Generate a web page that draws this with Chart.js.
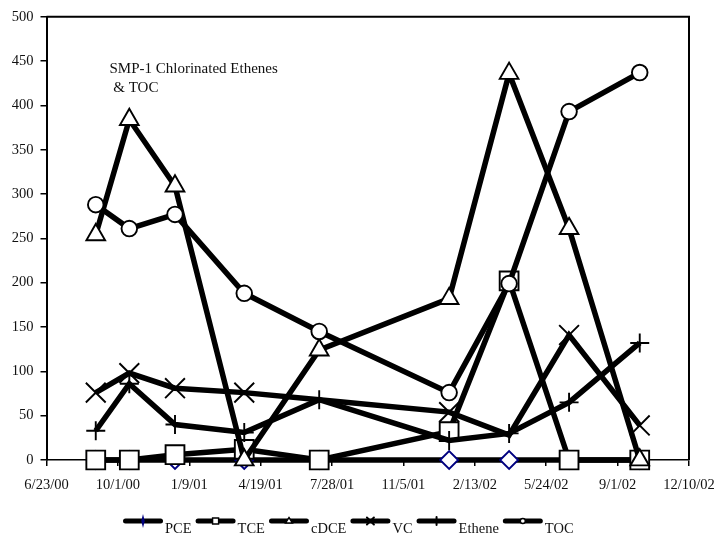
<!DOCTYPE html>
<html>
<head>
<meta charset="utf-8">
<script src="https://cdn.jsdelivr.net/npm/chart.js@4.4.1/dist/chart.umd.min.js"></script>
<style>
  html, body { margin: 0; padding: 0; background: #fff; }
  #wrap { width: 723px; height: 534px; }
</style>
</head>
<body>
<div id="wrap"><canvas id="c" width="723" height="534"></canvas></div>
<script>
// Sampling dates (M/D/YY) and concentrations per analyte
const sampleDates = ['8/31/00', '10/17/00', '12/20/00', '3/27/01', '7/10/01', '1/8/02', '4/2/02', '6/25/02', '10/2/02'];
const pce    = [0, 0, 0, 0, 0, 0, 0, 0, 0];
const tce    = [0, 0, 6, 12, 0, 32, 202, 0, 0];
const cdce   = [254, 384, 309, 0, 124, 182, 436, 261, 0];
const vc     = [76, 98, 81, 76, 68, 54, 28, 141, 39];
const ethene = [33, 86, 40, 31, 68, 22, 30, 65, 132];
const toc    = [288, 261, 277, 188, 145, 76, 199, 393, 437];

const seriesNames = ['PCE', 'TCE', 'cDCE', 'VC', 'Ethene', 'TOC'];
const xTickLabels = ['6/23/00', '10/1/00', '1/9/01', '4/19/01', '7/28/01', '11/5/01', '2/13/02', '5/24/02', '9/1/02', '12/10/02'];
const titleLines = ['SMP-1 Chlorinated Ethenes', ' & TOC'];

// x positions are days since the first axis date (6/23/00)
function dayOffset(s) {
  const [m, d, y] = s.split('/').map(Number);
  return (Date.UTC(2000 + y, m - 1, d) - Date.UTC(2000, 5, 23)) / 86400000;
}
const xs = sampleDates.map(dayOffset);
const pts = arr => arr.map((v, i) => ({ x: xs[i], y: v }));

const FONT = '"Liberation Serif", "Times New Roman", serif';

const styles = [
  { pointStyle: 'rectRot',  radius: 9,    border: '#000080', fill: '#fff' },
  { pointStyle: 'rect',     radius: 13.3, border: '#000',    fill: '#fff' },
  { pointStyle: 'triangle', radius: 10.8, border: '#000',    fill: '#fff' },
  { pointStyle: 'crossRot', radius: 14,   border: '#000',    fill: '#fff' },
  { pointStyle: 'cross',    radius: 9.5,  border: '#000',    fill: '#fff' },
  { pointStyle: 'circle',   radius: 7.8,  border: '#000',    fill: '#fff' }
];
const values = [pce, tce, cdce, vc, ethene, toc];

const datasets = values.map((arr, i) => {
  let radius = styles[i].radius;
  // VC markers sitting underneath coincident Ethene markers are not shown
  if (i === 3) radius = arr.map((v, k) => (Math.abs(v - ethene[k]) < 3 ? 0 : styles[i].radius));
  return {
    label: seriesNames[i],
    data: pts(arr),
    borderColor: '#000',
    borderWidth: 5.5,
    backgroundColor: '#000',
    pointStyle: styles[i].pointStyle,
    pointRadius: radius,
    pointHoverRadius: radius,
    pointBorderColor: styles[i].border,
    pointBackgroundColor: styles[i].fill,
    pointBorderWidth: 1.9,
    tension: 0,
    clip: false,
    order: values.length - i
  };
});

function smallMark(ctx, style, x, y, color) {
  ctx.save();
  ctx.lineWidth = 1.4;
  ctx.strokeStyle = color;
  ctx.fillStyle = '#fff';
  ctx.beginPath();
  if (style === 'rectRot') {
    ctx.moveTo(x, y - 4); ctx.lineTo(x + 1, y); ctx.lineTo(x, y + 4); ctx.lineTo(x - 1, y); ctx.closePath();
    ctx.fillStyle = color; ctx.fill(); ctx.stroke();
  } else if (style === 'rect') {
    ctx.rect(x - 3, y - 3, 6, 6); ctx.fill(); ctx.stroke();
  } else if (style === 'triangle') {
    ctx.moveTo(x, y - 3.5); ctx.lineTo(x + 3.5, y + 2); ctx.lineTo(x - 3.5, y + 2); ctx.closePath(); ctx.fill(); ctx.stroke();
  } else if (style === 'crossRot') {
    ctx.moveTo(x - 3.5, y - 3.5); ctx.lineTo(x + 3.5, y + 3.5); ctx.moveTo(x + 3.5, y - 3.5); ctx.lineTo(x - 3.5, y + 3.5);
    ctx.lineWidth = 2; ctx.stroke();
  } else if (style === 'cross') {
    ctx.moveTo(x - 4, y); ctx.lineTo(x + 4, y); ctx.moveTo(x, y - 4); ctx.lineTo(x, y + 4);
    ctx.lineWidth = 2; ctx.stroke();
  } else {
    ctx.arc(x, y, 2.5, 0, Math.PI * 2); ctx.fill(); ctx.stroke();
  }
  ctx.restore();
}

const decorations = {
  id: 'decorations',
  beforeDatasetsDraw(chart) {
    const { ctx, chartArea: a } = chart;
    ctx.save();
    ctx.strokeStyle = '#000';
    ctx.lineWidth = 2;
    ctx.beginPath();
    ctx.moveTo(a.left, a.top);
    ctx.lineTo(a.right, a.top);
    ctx.lineTo(a.right, a.bottom);
    ctx.stroke();
    ctx.restore();
  },
  afterDraw(chart) {
    const { ctx, chartArea: a } = chart;
    ctx.save();
    // chart title inside the plot
    ctx.fillStyle = '#111';
    ctx.font = '15px ' + FONT;
    ctx.textBaseline = 'alphabetic';
    ctx.textAlign = 'left';
    ctx.fillText(titleLines[0], a.left + 63, 72.5);
    ctx.fillText(titleLines[1], a.left + 63, 92);

    // legend row: thick line with a small marker, then the name
    ctx.font = '14.5px ' + FONT;
    const lineLen = 40, gapText = 2, gapItem = 4;
    let x = 123;
    const yLine = 521, yText = 533;
    chart.data.datasets.forEach((ds, i) => {
      ctx.strokeStyle = '#000';
      ctx.lineWidth = 5;
      ctx.lineCap = 'round';
      ctx.beginPath();
      ctx.moveTo(x + 2.5, yLine);
      ctx.lineTo(x + lineLen - 2.5, yLine);
      ctx.stroke();
      smallMark(ctx, styles[i].pointStyle, x + lineLen / 2, yLine, styles[i].border);
      ctx.fillStyle = '#111';
      ctx.fillText(ds.label, x + lineLen + gapText, yText);
      x += lineLen + gapText + ctx.measureText(ds.label).width + gapItem;
    });
    ctx.restore();
  }
};

new Chart(document.getElementById('c'), {
  type: 'line',
  data: { datasets },
  options: {
    responsive: false,
    animation: false,
    events: [],
    layout: { autoPadding: false, padding: { left: 0, right: 34, top: 16.7, bottom: 0 } },
    plugins: { legend: { display: false }, tooltip: { enabled: false }, title: { display: false } },
    scales: {
      x: {
        type: 'linear',
        min: 0,
        max: 900,
        afterFit: s => { s.height = 74; s.paddingLeft = 0; s.paddingRight = 0; },
        afterBuildTicks: s => { s.ticks = xTickLabels.map((_, i) => ({ value: i * 100 })); },
        ticks: {
          autoSkip: false,
          maxRotation: 0,
          padding: 10,
          color: '#111',
          font: { family: FONT, size: 14.5 },
          callback: v => xTickLabels[Math.round(v / 100)]
        },
        grid: { drawOnChartArea: false, drawTicks: true, tickLength: 6, color: '#000', lineWidth: 1.5 },
        border: { display: true, color: '#000', width: 1.5 }
      },
      y: {
        type: 'linear',
        min: 0,
        max: 500,
        afterFit: s => { s.width = 46.5; },
        ticks: {
          stepSize: 50,
          padding: 7,
          color: '#111',
          font: { family: FONT, size: 14.5 }
        },
        grid: { drawOnChartArea: false, drawTicks: true, tickLength: 6, color: '#000', lineWidth: 1.5 },
        border: { display: true, color: '#000', width: 2 }
      }
    }
  },
  plugins: [decorations]
});
</script>
</body>
</html>
